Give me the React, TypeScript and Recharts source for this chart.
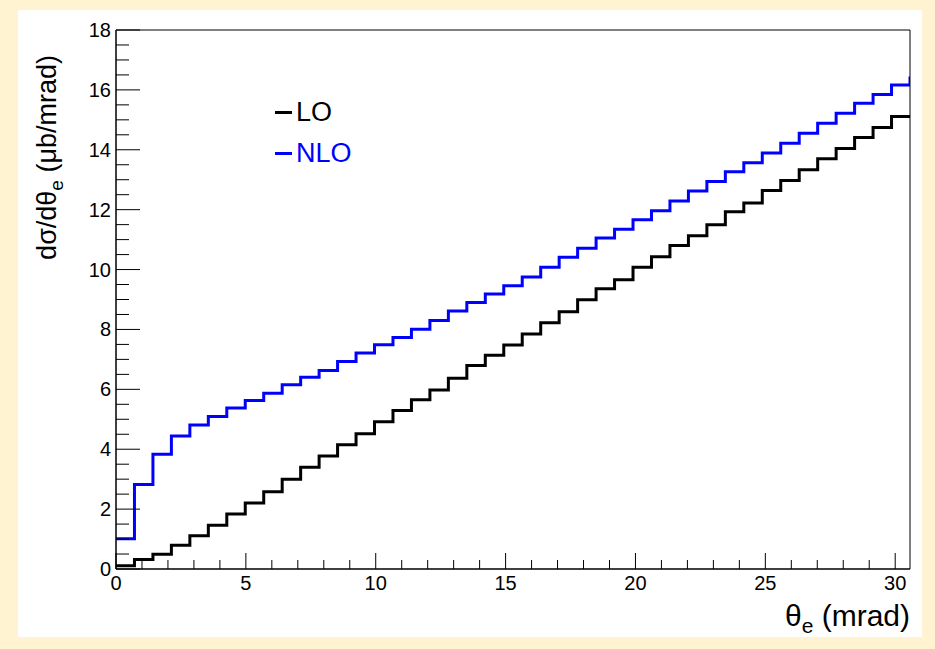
import React from "react";
import { LineChart, Line, XAxis, YAxis, Legend, Label } from "recharts";

// histogram: 43 equal bins from 0 to X_MAX (mrad)
const X_MAX = 30.57;
const LO = [
  0.11, 0.32, 0.49, 0.79, 1.11, 1.46, 1.84, 2.2, 2.58, 3.0, 3.4, 3.77, 4.15,
  4.52, 4.92, 5.29, 5.65, 5.98, 6.37, 6.8, 7.14, 7.48, 7.85, 8.22, 8.59, 8.99,
  9.36, 9.66, 10.08, 10.43, 10.8, 11.13, 11.5, 11.93, 12.22, 12.64, 12.97,
  13.33, 13.7, 14.04, 14.41, 14.74, 15.11,
];
const NLO = [
  1.01, 2.82, 3.83, 4.44, 4.81, 5.09, 5.38, 5.63, 5.87, 6.15, 6.4, 6.63, 6.93,
  7.21, 7.49, 7.73, 8.01, 8.3, 8.62, 8.9, 9.18, 9.46, 9.75, 10.08, 10.41,
  10.71, 11.05, 11.35, 11.66, 11.96, 12.29, 12.62, 12.94, 13.27, 13.57, 13.89,
  14.22, 14.55, 14.89, 15.22, 15.55, 15.85, 16.16,
];
// first bin past the axis end (only its rising edge is visible)
const NLO_NEXT_BIN = 16.45;

const X_TICKS = [
  0, 1, 2, 3, 4, 5, 6, 7, 8, 9, 10, 11, 12, 13, 14, 15, 16, 17, 18, 19, 20, 21,
  22, 23, 24, 25, 26, 27, 28, 29, 30,
];
const X_TICK_LABELS = [0, 5, 10, 15, 20, 25, 30];
const Y_TICKS = [
  0, 0.5, 1, 1.5, 2, 2.5, 3, 3.5, 4, 4.5, 5, 5.5, 6, 6.5, 7, 7.5, 8, 8.5, 9,
  9.5, 10, 10.5, 11, 11.5, 12, 12.5, 13, 13.5, 14, 14.5, 15, 15.5, 16, 16.5,
  17, 17.5, 18,
];
const Y_TICK_LABELS = [0, 2, 4, 6, 8, 10, 12, 14, 16, 18];

const binWidth = X_MAX / LO.length;
const data = [
  ...LO.map((lo, i) => ({ x: i * binWidth, lo, nlo: NLO[i] })),
  { x: X_MAX, lo: LO[LO.length - 1], nlo: NLO_NEXT_BIN },
];

const FONT = '"Liberation Sans", Arial, Helvetica, sans-serif';

function XTick(props: any) {
  const { x, y, payload } = props;
  const major = X_TICK_LABELS.includes(payload.value);
  return (
    <g>
      <line x1={x} x2={x} y1={y} y2={y - (major ? 16 : 9)} stroke="#000" />
      {major && (
        <text
          x={x}
          y={y + 21}
          textAnchor="middle"
          fontSize={20}
          fontFamily={FONT}
          fill="#000"
        >
          {payload.value}
        </text>
      )}
    </g>
  );
}

function YTick(props: any) {
  const { x, y, payload } = props;
  const major = Y_TICK_LABELS.includes(payload.value);
  return (
    <g>
      <line x1={x} x2={x + (major ? 24 : 13)} y1={y} y2={y} stroke="#000" />
      {major && (
        <text
          x={x - 5}
          y={y + 7}
          textAnchor="end"
          fontSize={20}
          fontFamily={FONT}
          fill="#000"
        >
          {payload.value}
        </text>
      )}
    </g>
  );
}

function XTitle(props: any) {
  const { viewBox } = props;
  return (
    <text
      x={viewBox.x + viewBox.width}
      y={viewBox.y + 57}
      textAnchor="end"
      fontSize={30}
      fontFamily={FONT}
      fill="#000"
    >
      θ
      <tspan fontSize={21} dy={7}>
        e
      </tspan>
      <tspan dy={-7}>{" (mrad)"}</tspan>
    </text>
  );
}

function YTitle() {
  const x = 56;
  const y = 55;
  return (
    <text
      x={x}
      y={y}
      transform={`rotate(-90 ${x} ${y})`}
      textAnchor="end"
      fontSize={27}
      fontFamily={FONT}
      fill="#000"
    >
      dσ/dθ
      <tspan fontSize={19} dy={7}>
        e
      </tspan>
      <tspan dy={-7}>{" (μb/mrad)"}</tspan>
    </text>
  );
}

function LegendContent(props: any) {
  const { payload } = props;
  return (
    <div style={{ fontFamily: FONT, fontSize: 27 }}>
      {payload.map((e: any) => (
        <div
          key={e.value}
          style={{
            height: 41,
            display: "flex",
            alignItems: "center",
            color: e.color,
          }}
        >
          <span
            style={{
              display: "inline-block",
              width: 17,
              height: 2.5,
              background: e.color,
              marginRight: 4,
            }}
          />
          {e.value}
        </div>
      ))}
    </div>
  );
}

export default function App() {
  return (
    <div
      style={{
        position: "absolute",
        left: 0,
        top: 0,
        width: 935,
        height: 649,
        background: "#fff3d1",
      }}
    >
      <div
        style={{
          position: "absolute",
          left: 18,
          top: 10,
          width: 904,
          height: 627,
          background: "#fff",
        }}
      />
      <div style={{ position: "absolute", left: 0, top: 0 }}>
        <LineChart
          width={935}
          height={649}
          data={data}
          margin={{ top: 29, right: 24, bottom: 79, left: 0 }}
        >
          <XAxis
            dataKey="x"
            type="number"
            domain={[0, X_MAX]}
            ticks={X_TICKS}
            interval={0}
            tick={<XTick />}
            tickLine={false}
            tickSize={0}
            tickMargin={0}
            height={1}
            axisLine={{ stroke: "#000", strokeWidth: 1.5 }}
            allowDataOverflow
          >
            <Label content={XTitle} />
          </XAxis>
          <XAxis
            xAxisId="top"
            orientation="top"
            type="number"
            domain={[0, X_MAX]}
            tick={false}
            tickLine={false}
            height={1}
            axisLine={{ stroke: "#000" }}
          />
          <YAxis
            type="number"
            domain={[0, 18]}
            ticks={Y_TICKS}
            interval={0}
            tick={<YTick />}
            tickLine={false}
            tickSize={0}
            tickMargin={0}
            width={116}
            axisLine={{ stroke: "#000", strokeWidth: 1.5 }}
            allowDataOverflow
          >
            <Label content={YTitle} />
          </YAxis>
          <YAxis
            yAxisId="right"
            orientation="right"
            type="number"
            domain={[0, 18]}
            tick={false}
            tickLine={false}
            width={1}
            axisLine={{ stroke: "#000" }}
          />
          <Legend
            layout="vertical"
            align="center"
            verticalAlign="middle"
            wrapperStyle={{ left: 275, top: 92, width: 160 }}
            content={LegendContent}
          />
          <Line
            type="stepAfter"
            dataKey="lo"
            name="LO"
            stroke="#000"
            strokeWidth={3}
            dot={false}
            isAnimationActive={false}
          />
          <Line
            type="stepAfter"
            dataKey="nlo"
            name="NLO"
            stroke="#0000ff"
            strokeWidth={3}
            dot={false}
            isAnimationActive={false}
          />
        </LineChart>
      </div>
    </div>
  );
}
